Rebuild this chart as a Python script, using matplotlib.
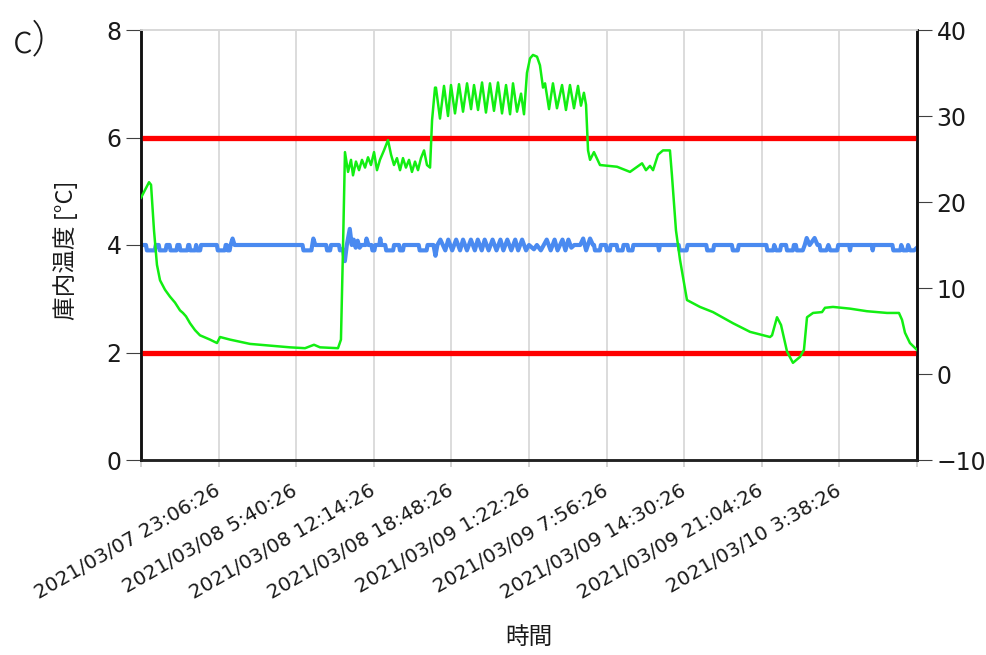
import matplotlib
matplotlib.use('Agg')
import matplotlib.pyplot as plt
import matplotlib.dates as mdates
import pandas as pd
from matplotlib.ticker import FixedLocator, FuncFormatter

# ---------------- data ----------------
start_time = pd.Timestamp('2021-03-07 16:32:26')
log_interval_min = 5            # logger interval
n_intervals = 788               # records in the plotted span
tick_step_min = 394             # 6:34:00 between category ticks

# outside / chamber temperature (right axis), hours from start
green_hours = [0.00, 0.34, 0.68, 0.85, 1.10, 1.35, 1.61, 2.03, 2.45, 2.88, 3.30, 3.55, 3.81,
               4.15, 4.57, 4.99, 5.84, 6.43, 6.69, 7.53, 9.22, 10.92, 12.61, 13.88, 14.64,
               15.15, 16.67, 16.92, 17.09, 17.26,
               17.52, 17.77, 17.94, 18.19, 18.45, 18.70, 18.96, 19.21, 19.46, 19.72, 19.97,
               20.22, 20.56, 20.90, 21.16, 21.41, 21.66, 21.92, 22.17, 22.42, 22.68, 22.93,
               23.19, 23.44, 23.69, 23.95, 24.20, 24.46, 24.63, 24.88,
               24.96, 25.30, 25.64, 25.98, 26.23, 26.57, 26.91, 27.25, 27.59, 27.93, 28.18,
               28.52, 28.86, 29.19, 29.53, 29.87, 30.21, 30.55, 30.89, 31.23, 31.48, 31.82,
               32.16, 32.41, 32.66, 32.92, 33.17, 33.51, 33.76, 34.02,
               34.19, 34.53, 34.86, 35.20, 35.63, 35.96, 36.30, 36.64, 36.98, 37.23, 37.48,
               37.66, 37.83, 38.00, 38.33, 38.84, 40.28, 41.38, 41.89, 42.40, 42.73, 43.07,
               43.33, 43.75, 44.17, 44.76, 44.93, 45.27, 45.61, 46.20, 47.30, 48.40, 50.10,
               51.54, 53.23, 53.40, 53.82, 54.16, 54.67, 55.17, 55.77, 56.10, 56.36, 56.87,
               57.63, 57.88, 58.56, 60.00, 61.43, 63.13, 64.14, 64.40, 64.65, 65.07, 65.67]
green_temp = [20.5, 21.4, 22.3, 22.0, 16.7, 12.7, 10.9, 9.8, 9.0, 8.3, 7.4, 7.1, 6.7,
              5.9, 5.1, 4.5, 4.0, 3.6, 4.3, 4.0, 3.5, 3.3, 3.1, 3.0, 3.4,
              3.1, 3.0, 4.0, 14.4, 25.8,
              23.5, 24.9, 23.1, 24.7, 23.7, 24.9, 24.0, 25.2, 24.3, 25.8, 23.7,
              24.9, 26.0, 27.2, 25.5, 24.3, 25.1, 23.7, 25.1, 24.0, 24.9, 23.5,
              24.7, 23.7, 25.1, 26.0, 24.3, 24.0, 29.5, 33.3,
              33.3, 29.7, 33.5, 30.0, 33.6, 30.3, 33.7, 30.5, 33.8, 30.8, 33.6,
              30.7, 33.9, 30.4, 33.8, 30.6, 33.9, 30.3, 33.6, 30.2, 33.8, 30.5,
              32.6, 30.2, 35.0, 36.7, 37.1, 36.9, 35.9, 33.3,
              33.8, 30.8, 33.8, 30.9, 33.6, 30.7, 33.6, 30.9, 33.5, 31.2, 32.7,
              31.3, 26.0, 24.9, 25.8, 24.3, 24.1, 23.5, 24.0, 24.5, 23.7, 24.2,
              23.7, 25.5, 26.0, 26.0, 23.1, 16.7, 13.3, 8.6, 7.8, 7.2, 5.9,
              4.9, 4.3, 4.5, 6.6, 5.7, 2.6, 1.3, 2.0, 2.8, 6.6, 7.1,
              7.2, 7.7, 7.8, 7.6, 7.3, 7.1, 7.1, 6.3, 4.8, 3.6, 2.8]

# box interior temperature (left axis), record index (5-min logging)
blue_idx = [0,
            5, 6, 14, 15, 18, 19, 25, 26, 29, 30, 36, 37, 39, 40, 47, 48,
            49, 50, 55, 56, 57, 60, 61, 77, 78, 85, 86,
            87, 88, 90, 91, 93, 95, 164, 165, 173, 175, 177, 188, 189, 192, 193,
            201, 202, 205, 207, 209, 212, 214, 216, 218, 220, 222, 224,
            228, 229, 231, 234, 235, 237, 238, 242, 243, 244,
            248, 249, 256, 257, 262, 263, 266, 267, 282, 283, 290, 291,
            297, 299, 301, 304,
            309, 312, 316, 320, 324, 327, 331, 335, 339, 342, 346, 349,
            353, 357, 361, 365, 368, 372, 376, 380, 383, 387, 391, 394,
            399, 402, 406, 409, 412, 416, 420, 423, 428, 431, 434, 437, 440,
            446, 449, 452, 456, 459, 460, 461, 466, 467, 472, 473, 476, 477,
            483, 484, 489, 490, 494, 495, 499, 500, 525, 526, 527,
            546, 547, 554, 555, 574, 575, 581, 582, 600, 601, 606, 607,
            635, 636, 642, 643, 645, 649, 650, 655, 656, 662, 663,
            665, 666, 672, 674, 676, 679, 684, 687,
            689, 690, 696, 698, 700, 707, 708, 719, 720, 721, 742, 743, 744,
            763, 764, 771, 772, 774, 778, 779, 781, 785, 788]
blue_temp = [4.0,
             4.0, 3.9, 3.9, 4.0, 4.0, 3.9, 3.9, 4.0, 4.0, 3.9, 3.9, 4.0, 4.0, 3.9, 3.9, 4.0,
             4.0, 3.9, 3.9, 4.0, 3.9, 3.9, 4.0, 4.0, 3.9, 3.9, 4.0,
             4.0, 3.9, 3.9, 4.0, 4.12, 4.0, 4.0, 3.9, 3.9, 4.12, 4.0, 4.0, 3.9, 3.9, 4.0,
             4.0, 3.9, 3.92, 3.7, 4.0, 4.3, 4.0, 4.1, 3.95, 4.08, 3.95, 4.0,
             4.0, 4.12, 4.0, 4.0, 3.9, 3.9, 4.0, 4.0, 4.12, 4.0,
             4.0, 3.9, 3.9, 4.0, 4.0, 3.9, 3.9, 4.0, 4.0, 3.9, 3.9, 4.0,
             4.0, 3.8, 4.0, 4.1,
             3.9, 4.1, 3.9, 4.1, 3.9, 4.1, 3.9, 4.1, 3.9, 4.1, 3.9, 4.1,
             3.9, 4.1, 3.9, 4.1, 3.9, 4.1, 3.9, 4.1, 3.9, 4.1, 3.9, 4.0,
             3.92, 4.0, 3.9, 4.0, 4.1, 3.9, 4.1, 3.9, 4.1, 3.9, 4.1, 3.95, 4.0,
             4.0, 4.12, 3.9, 4.12, 4.0, 4.0, 3.9, 3.9, 4.0, 4.0, 3.9, 3.9, 4.0,
             4.0, 3.9, 3.9, 4.0, 4.0, 3.9, 3.9, 4.0, 4.0, 3.9, 4.0,
             4.0, 3.9, 3.9, 4.0, 4.0, 3.9, 3.9, 4.0, 4.0, 3.9, 3.9, 4.0,
             4.0, 3.9, 3.9, 4.0, 3.9, 3.9, 4.0, 4.0, 3.9, 3.9, 4.0,
             4.0, 3.9, 3.9, 4.0, 4.13, 4.0, 4.13, 4.0,
             4.0, 3.9, 3.9, 4.0, 3.9, 3.9, 4.0, 4.0, 3.9, 4.0, 4.0, 3.9, 4.0,
             4.0, 3.9, 3.9, 4.0, 3.9, 3.9, 4.0, 3.9, 3.9, 3.95]

limit_low, limit_high = 2, 6
left_ticks = [0, 2, 4, 6, 8]
right_ticks = [-10, 0, 10, 20, 30, 40]
y_label = '庫内温度 [°C]'
x_label = '時間'
panel_label = 'c）'

# ---------------- plot ----------------
plt.rcParams['font.family'] = ['DejaVu Sans']
fig = plt.figure(figsize=(9.87, 6.55), dpi=100)
ax = fig.add_axes([141/987, 1-460/655, (917-141)/987, 430/655])
ax2 = ax.twinx()

green_t = start_time + pd.to_timedelta(green_hours, unit='h')
blue_t = start_time + pd.to_timedelta([i*log_interval_min for i in blue_idx], unit='min')
end_time = start_time + pd.Timedelta(minutes=n_intervals*log_interval_min)
tick_times = [start_time + pd.Timedelta(minutes=k*tick_step_min) for k in range(11)]
tick_nums = [mdates.date2num(t.to_pydatetime()) for t in tick_times]

ax.axhline(limit_low, color='#ff0000', lw=3.8, zorder=3)
ax.axhline(limit_high, color='#ff0000', lw=3.8, zorder=3)
ax.plot(blue_t, blue_temp, color='#4a8af0', lw=3.0, zorder=2)
ax2.plot(green_t, green_temp, color='#12ee12', lw=1.8, zorder=4)

ax.set_xlim(mdates.date2num(start_time.to_pydatetime()), mdates.date2num(end_time.to_pydatetime()))
ax.set_ylim(0, 8)
ax2.set_ylim(-10, 40)
ax.set_yticks(left_ticks)
ax2.set_yticks(right_ticks)

ax.xaxis.set_major_locator(FixedLocator(tick_nums))
def fmt(x, pos):
    if pos is None or pos == 0 or pos == len(tick_nums) - 1:
        return ''
    d = mdates.num2date(x)
    return f"{d:%Y/%m/%d} {d.hour}:{d:%M:%S}"
ax.xaxis.set_major_formatter(FuncFormatter(fmt))
ax.grid(axis='x', color='#d9d9d9', lw=1.3, zorder=0)

for lab in ax.get_xticklabels():
    lab.set_rotation(30)
    lab.set_ha('right')
    lab.set_va('center')
    lab.set_rotation_mode('anchor')
ax.tick_params(axis='x', length=5, color='#d0d0d0', width=1.3, pad=16, labelsize=14.3,
               labelcolor='#1a1a1a')
ax.tick_params(axis='y', length=11, color='#404040', width=0.8, pad=3, labelsize=17,
               labelcolor='#1a1a1a')
ax2.tick_params(axis='y', length=11, color='#404040', width=0.8, pad=3, labelsize=17,
                labelcolor='#1a1a1a')

for a in (ax, ax2):
    a.spines['top'].set_color('#d9d9d9')
    a.spines['top'].set_linewidth(1.3)
    a.spines['left'].set_color('#111111')
    a.spines['left'].set_linewidth(1.8)
    a.spines['right'].set_color('#111111')
    a.spines['right'].set_linewidth(1.8)
    a.spines['bottom'].set_color('#222222')
    a.spines['bottom'].set_linewidth(1.8)

ax.set_zorder(1)
ax2.set_zorder(2)
ax2.patch.set_visible(False)

fig.text(66/987, 1-250/655, y_label, rotation=90, ha='center', va='center',
         fontsize=17, family=['Noto Sans CJK JP', 'DejaVu Sans'], color='#1a1a1a')
fig.text(529/987, 1-637/655, x_label, ha='center', va='center',
         fontsize=17, family=['Noto Sans CJK JP', 'DejaVu Sans'], color='#1a1a1a')
fig.text(13/987, 1-52/655, panel_label, ha='left', va='baseline',
         fontsize=28, family=['Noto Sans CJK JP', 'DejaVu Sans'], color='#1a1a1a',
         fontweight='light')

fig.savefig('out.png', dpi=100)
